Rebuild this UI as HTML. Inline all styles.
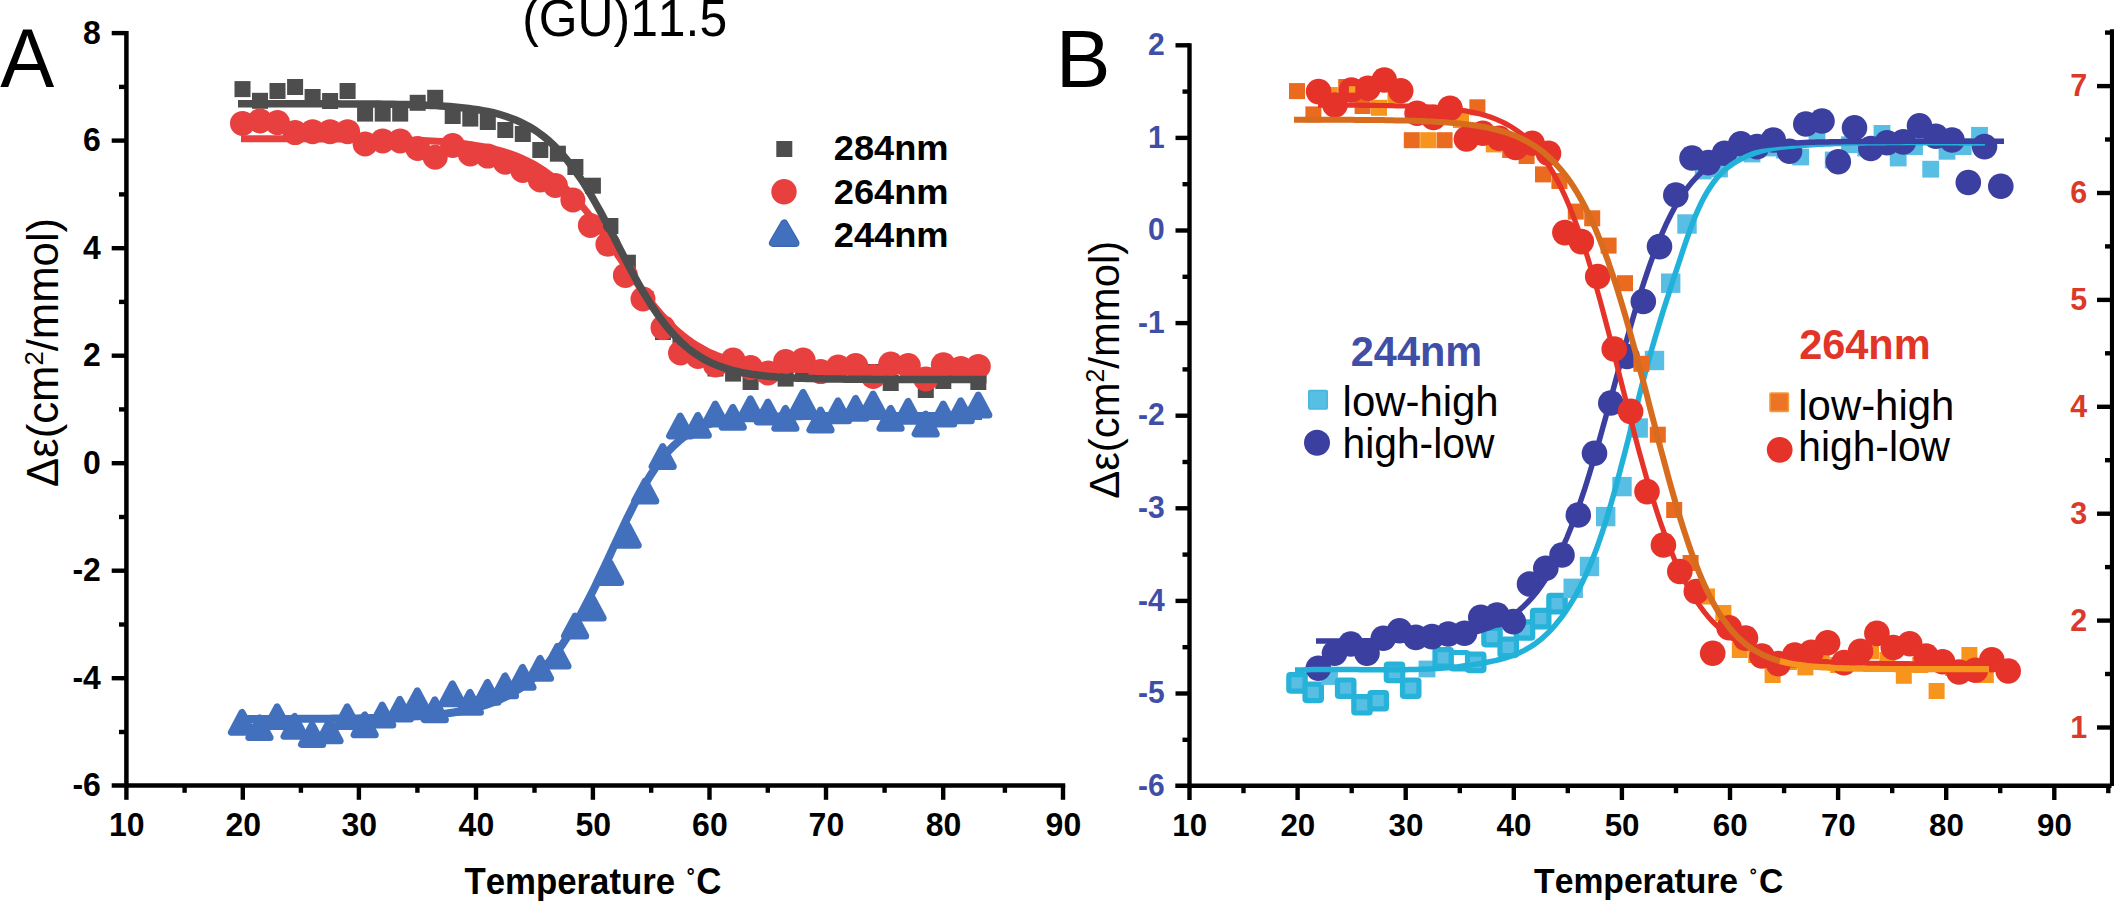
<!DOCTYPE html>
<html><head><meta charset="utf-8"><title>Figure</title>
<style>html,body{margin:0;padding:0;background:#fff}svg{display:block}
text{font-family:"Liberation Sans",sans-serif;font-kerning:none}
.b{font-weight:bold}
</style></head><body>
<svg width="2114" height="901" viewBox="0 0 2114 901">
<rect width="2114" height="901" fill="#fff"/>
<g id="panelA">
<g fill="#4d4d4d">
<rect x="234.5" y="81.1" width="16" height="16"/>
<rect x="252.0" y="92.8" width="16" height="16"/>
<rect x="269.5" y="83.0" width="16" height="16"/>
<rect x="287.1" y="79.0" width="16" height="16"/>
<rect x="304.6" y="89.0" width="16" height="16"/>
<rect x="322.1" y="93.0" width="16" height="16"/>
<rect x="339.6" y="83.0" width="16" height="16"/>
<rect x="357.1" y="105.6" width="16" height="16"/>
<rect x="374.7" y="105.6" width="16" height="16"/>
<rect x="392.2" y="105.6" width="16" height="16"/>
<rect x="409.7" y="94.8" width="16" height="16"/>
<rect x="427.2" y="89.8" width="16" height="16"/>
<rect x="444.7" y="108.0" width="16" height="16"/>
<rect x="462.3" y="110.6" width="16" height="16"/>
<rect x="479.8" y="114.0" width="16" height="16"/>
<rect x="497.3" y="122.0" width="16" height="16"/>
<rect x="514.8" y="126.0" width="16" height="16"/>
<rect x="532.3" y="142.0" width="16" height="16"/>
<rect x="549.9" y="145.7" width="16" height="16"/>
<rect x="567.4" y="159.0" width="16" height="16"/>
<rect x="584.9" y="177.7" width="16" height="16"/>
<rect x="602.4" y="218.0" width="16" height="16"/>
<rect x="619.9" y="254.7" width="16" height="16"/>
<rect x="637.5" y="291.0" width="16" height="16"/>
<rect x="655.0" y="324.0" width="16" height="16"/>
<rect x="672.5" y="337.0" width="16" height="16"/>
<rect x="690.0" y="350.0" width="16" height="16"/>
<rect x="707.5" y="360.5" width="16" height="16"/>
<rect x="725.1" y="365.6" width="16" height="16"/>
<rect x="742.6" y="374.0" width="16" height="16"/>
<rect x="760.1" y="364.0" width="16" height="16"/>
<rect x="777.6" y="370.6" width="16" height="16"/>
<rect x="795.1" y="364.0" width="16" height="16"/>
<rect x="812.7" y="364.0" width="16" height="16"/>
<rect x="830.2" y="364.0" width="16" height="16"/>
<rect x="847.7" y="364.0" width="16" height="16"/>
<rect x="865.2" y="364.0" width="16" height="16"/>
<rect x="882.7" y="375.0" width="16" height="16"/>
<rect x="900.3" y="364.0" width="16" height="16"/>
<rect x="917.8" y="382.0" width="16" height="16"/>
<rect x="935.3" y="373.0" width="16" height="16"/>
<rect x="952.8" y="364.0" width="16" height="16"/>
<rect x="970.3" y="374.0" width="16" height="16"/>
</g>
<g fill="#e8403f">
<circle cx="242.5" cy="123.4" r="12.5"/>
<circle cx="260.0" cy="120.9" r="12.5"/>
<circle cx="277.5" cy="122.6" r="12.5"/>
<circle cx="295.1" cy="132.6" r="12.5"/>
<circle cx="312.6" cy="131.7" r="12.5"/>
<circle cx="330.1" cy="131.7" r="12.5"/>
<circle cx="347.6" cy="131.7" r="12.5"/>
<circle cx="365.1" cy="143.9" r="12.5"/>
<circle cx="382.7" cy="140.9" r="12.5"/>
<circle cx="400.2" cy="140.9" r="12.5"/>
<circle cx="417.7" cy="148.5" r="12.5"/>
<circle cx="435.2" cy="157.2" r="12.5"/>
<circle cx="452.7" cy="145.5" r="12.5"/>
<circle cx="470.3" cy="153.9" r="12.5"/>
<circle cx="487.8" cy="156.1" r="12.5"/>
<circle cx="505.3" cy="162.2" r="12.5"/>
<circle cx="522.8" cy="170.5" r="12.5"/>
<circle cx="540.3" cy="180.0" r="12.5"/>
<circle cx="555.4" cy="185.5" r="12.5"/>
<circle cx="572.9" cy="200.0" r="12.5"/>
<circle cx="590.4" cy="225.4" r="12.5"/>
<circle cx="607.9" cy="244.3" r="12.5"/>
<circle cx="625.4" cy="275.4" r="12.5"/>
<circle cx="643.0" cy="299.0" r="12.5"/>
<circle cx="663.0" cy="327.7" r="12.5"/>
<circle cx="680.5" cy="353.0" r="12.5"/>
<circle cx="698.0" cy="356.5" r="12.5"/>
<circle cx="715.5" cy="365.0" r="12.5"/>
<circle cx="733.1" cy="360.0" r="12.5"/>
<circle cx="750.6" cy="367.6" r="12.5"/>
<circle cx="768.1" cy="373.0" r="12.5"/>
<circle cx="785.6" cy="361.5" r="12.5"/>
<circle cx="803.1" cy="360.1" r="12.5"/>
<circle cx="820.7" cy="371.6" r="12.5"/>
<circle cx="838.2" cy="367.0" r="12.5"/>
<circle cx="855.7" cy="365.6" r="12.5"/>
<circle cx="873.2" cy="376.4" r="12.5"/>
<circle cx="890.7" cy="364.0" r="12.5"/>
<circle cx="908.3" cy="365.6" r="12.5"/>
<circle cx="925.8" cy="379.0" r="12.5"/>
<circle cx="943.3" cy="364.8" r="12.5"/>
<circle cx="960.8" cy="368.4" r="12.5"/>
<circle cx="978.3" cy="366.4" r="12.5"/>
</g>
<g fill="#4270bd" stroke="#4270bd" stroke-width="7" stroke-linejoin="round">
<path d="M242.0,712.5 L231.4,732.3 L252.6,732.3 Z"/>
<path d="M259.5,717.8 L248.9,737.6 L270.1,737.6 Z"/>
<path d="M277.1,706.8 L266.5,726.6 L287.7,726.6 Z"/>
<path d="M294.6,716.5 L284.0,736.3 L305.2,736.3 Z"/>
<path d="M312.1,724.7 L301.5,744.5 L322.7,744.5 Z"/>
<path d="M329.6,721.0 L319.0,740.8 L340.2,740.8 Z"/>
<path d="M347.2,706.8 L336.6,726.6 L357.8,726.6 Z"/>
<path d="M364.7,715.0 L354.1,734.8 L375.3,734.8 Z"/>
<path d="M382.2,705.1 L371.6,724.9 L392.8,724.9 Z"/>
<path d="M399.8,699.3 L389.2,719.1 L410.4,719.1 Z"/>
<path d="M417.3,690.9 L406.7,710.7 L427.9,710.7 Z"/>
<path d="M434.8,699.9 L424.2,719.7 L445.4,719.7 Z"/>
<path d="M452.4,684.0 L441.8,703.8 L463.0,703.8 Z"/>
<path d="M469.9,692.5 L459.3,712.3 L480.5,712.3 Z"/>
<path d="M487.4,682.5 L476.8,702.3 L498.0,702.3 Z"/>
<path d="M505.0,676.0 L494.4,695.8 L515.6,695.8 Z"/>
<path d="M522.5,667.5 L511.9,687.3 L533.1,687.3 Z"/>
<path d="M540.0,658.5 L529.4,678.3 L550.6,678.3 Z"/>
<path d="M557.5,646.3 L546.9,666.1 L568.1,666.1 Z"/>
<path d="M575.1,616.1 L564.5,635.9 L585.7,635.9 Z"/>
<path d="M592.6,598.3 L582.0,618.1 L603.2,618.1 Z"/>
<path d="M610.1,562.8 L599.5,582.6 L620.7,582.6 Z"/>
<path d="M627.7,525.5 L617.1,545.3 L638.3,545.3 Z"/>
<path d="M645.2,481.2 L634.6,501.0 L655.8,501.0 Z"/>
<path d="M662.7,446.7 L652.1,466.5 L673.3,466.5 Z"/>
<path d="M680.2,416.2 L669.6,436.0 L690.9,436.0 Z"/>
<path d="M697.8,415.5 L687.2,435.3 L708.4,435.3 Z"/>
<path d="M715.3,404.1 L704.7,423.9 L725.9,423.9 Z"/>
<path d="M732.8,407.5 L722.2,427.3 L743.4,427.3 Z"/>
<path d="M750.4,398.9 L739.8,418.7 L761.0,418.7 Z"/>
<path d="M767.9,402.2 L757.3,422.0 L778.5,422.0 Z"/>
<path d="M785.4,408.5 L774.8,428.3 L796.0,428.3 Z"/>
<path d="M803.0,392.5 L792.4,412.3 L813.6,412.3 Z"/>
<path d="M820.5,410.1 L809.9,429.9 L831.1,429.9 Z"/>
<path d="M838.0,400.9 L827.4,420.7 L848.6,420.7 Z"/>
<path d="M855.6,398.5 L845.0,418.3 L866.2,418.3 Z"/>
<path d="M873.1,394.2 L862.5,414.0 L883.7,414.0 Z"/>
<path d="M890.6,408.5 L880.0,428.3 L901.2,428.3 Z"/>
<path d="M908.1,401.5 L897.5,421.3 L918.7,421.3 Z"/>
<path d="M925.7,414.2 L915.1,434.0 L936.3,434.0 Z"/>
<path d="M943.2,404.2 L932.6,424.0 L953.8,424.0 Z"/>
<path d="M960.7,400.9 L950.1,420.7 L971.3,420.7 Z"/>
<path d="M978.3,395.1 L967.7,414.9 L988.9,414.9 Z"/>
</g>
<path d="M241.0,138.7 L245.7,138.7 L250.3,138.7 L255.0,138.7 L259.6,138.7 L264.3,138.7 L269.0,138.7 L273.6,138.7 L278.3,138.8 L282.9,138.8 L287.6,138.8 L292.3,138.8 L296.9,138.8 L301.6,138.8 L306.2,138.8 L310.9,138.8 L315.6,138.8 L320.2,138.9 L324.9,138.9 L329.5,138.9 L334.2,138.9 L338.9,138.9 L343.5,139.0 L348.2,139.0 L352.8,139.0 L357.5,139.1 L362.2,139.1 L366.8,139.2 L371.5,139.2 L376.2,139.3 L380.8,139.4 L385.5,139.5 L390.1,139.5 L394.8,139.6 L399.5,139.8 L404.1,139.9 L408.8,140.0 L413.4,140.2 L418.1,140.4 L422.8,140.6 L427.4,140.8 L432.1,141.0 L436.7,141.3 L441.4,141.6 L446.1,142.0 L450.7,142.4 L455.4,142.8 L460.0,143.3 L464.7,143.8 L469.4,144.4 L474.0,145.1 L478.7,145.9 L483.3,146.7 L488.0,147.6 L492.7,148.7 L497.3,149.8 L502.0,151.1 L506.6,152.5 L511.3,154.1 L516.0,155.8 L520.6,157.7 L525.3,159.8 L529.9,162.1 L534.6,164.6 L539.3,167.4 L543.9,170.4 L548.6,173.7 L553.2,177.3 L557.9,181.1 L562.6,185.3 L567.2,189.7 L571.9,194.5 L576.5,199.6 L581.2,205.0 L585.9,210.6 L590.5,216.5 L595.2,222.7 L599.8,229.1 L604.5,235.7 L609.2,242.4 L613.8,249.3 L618.5,256.2 L623.2,263.1 L627.8,270.0 L632.5,276.8 L637.1,283.5 L641.8,289.9 L646.5,296.2 L651.1,302.3 L655.8,308.1 L660.4,313.5 L665.1,318.7 L669.8,323.6 L674.4,328.1 L679.1,332.3 L683.7,336.1 L688.4,339.7 L693.1,343.0 L697.7,345.9 L702.4,348.6 L707.0,351.1 L711.7,353.3 L716.4,355.3 L721.0,357.1 L725.7,358.6 L730.3,360.1 L735.0,361.3 L739.7,362.5 L744.3,363.5 L749.0,364.4 L753.6,365.2 L758.3,365.9 L763.0,366.5 L767.6,367.0 L772.3,367.5 L776.9,367.9 L781.6,368.3 L786.3,368.6 L790.9,368.9 L795.6,369.2 L800.2,369.4 L804.9,369.6 L809.6,369.8 L814.2,369.9 L818.9,370.1 L823.5,370.2 L828.2,370.3 L832.9,370.4 L837.5,370.4 L842.2,370.5 L846.8,370.6 L851.5,370.6 L856.2,370.7 L860.8,370.7 L865.5,370.7 L870.2,370.8 L874.8,370.8 L879.5,370.8 L884.1,370.9 L888.8,370.9 L893.5,370.9 L898.1,370.9 L902.8,370.9 L907.4,370.9 L912.1,370.9 L916.8,370.9 L921.4,370.9 L926.1,371.0 L930.7,371.0 L935.4,371.0 L940.1,371.0 L944.7,371.0 L949.4,371.0 L954.0,371.0 L958.7,371.0 L963.4,371.0 L968.0,371.0 L972.7,371.0 L977.3,371.0 L982.0,371.0" fill="none" stroke="#e8403f" stroke-width="7"/>
<path d="M240.0,719.0 L244.7,719.0 L249.3,719.0 L254.0,718.9 L258.7,718.9 L263.3,718.9 L268.0,718.9 L272.7,718.9 L277.3,718.9 L282.0,718.9 L286.7,718.9 L291.3,718.9 L296.0,718.9 L300.7,718.8 L305.3,718.8 L310.0,718.8 L314.7,718.8 L319.3,718.7 L324.0,718.7 L328.7,718.7 L333.3,718.6 L338.0,718.6 L342.7,718.5 L347.3,718.5 L352.0,718.4 L356.7,718.4 L361.3,718.3 L366.0,718.2 L370.7,718.1 L375.3,718.0 L380.0,717.9 L384.7,717.7 L389.3,717.6 L394.0,717.4 L398.7,717.2 L403.3,717.0 L408.0,716.8 L412.7,716.5 L417.3,716.2 L422.0,715.9 L426.7,715.5 L431.3,715.1 L436.0,714.7 L440.7,714.2 L445.3,713.6 L450.0,713.0 L454.7,712.3 L459.3,711.5 L464.0,710.6 L468.7,709.6 L473.3,708.5 L478.0,707.3 L482.7,706.0 L487.3,704.5 L492.0,702.8 L496.7,701.0 L501.3,698.9 L506.0,696.7 L510.7,694.2 L515.3,691.4 L520.0,688.4 L524.7,685.0 L529.3,681.4 L534.0,677.4 L538.7,673.0 L543.3,668.2 L548.0,663.1 L552.7,657.5 L557.3,651.4 L562.0,644.9 L566.7,637.9 L571.3,630.5 L576.0,622.7 L580.7,614.4 L585.3,605.7 L590.0,596.6 L594.7,587.2 L599.3,577.5 L604.0,567.7 L608.7,557.7 L613.3,547.6 L618.0,537.6 L622.7,527.7 L627.3,518.0 L632.0,508.6 L636.7,499.5 L641.3,490.8 L646.0,482.7 L650.7,475.0 L655.3,468.0 L660.0,461.5 L664.7,455.5 L669.3,450.2 L674.0,445.4 L678.7,441.2 L683.3,437.4 L688.0,434.2 L692.7,431.3 L697.3,428.9 L702.0,426.8 L706.7,425.0 L711.3,423.5 L716.0,422.2 L720.7,421.1 L725.3,420.2 L730.0,419.5 L734.7,418.8 L739.3,418.3 L744.0,417.9 L748.7,417.5 L753.3,417.3 L758.0,417.0 L762.7,416.8 L767.3,416.7 L772.0,416.5 L776.7,416.4 L781.3,416.4 L786.0,416.3 L790.7,416.2 L795.3,416.2 L800.0,416.2 L804.7,416.1 L809.3,416.1 L814.0,416.1 L818.7,416.1 L823.3,416.1 L828.0,416.0 L832.7,416.0 L837.3,416.0 L842.0,416.0 L846.7,416.0 L851.3,416.0 L856.0,416.0 L860.7,416.0 L865.3,416.0 L870.0,416.0 L874.7,416.0 L879.3,416.0 L884.0,416.0 L888.7,416.0 L893.3,416.0 L898.0,416.0 L902.7,416.0 L907.3,416.0 L912.0,416.0 L916.7,416.0 L921.3,416.0 L926.0,416.0 L930.7,416.0 L935.3,416.0 L940.0,416.0 L944.7,416.0 L949.3,416.0 L954.0,416.0 L958.7,416.0 L963.3,416.0 L968.0,416.0 L972.7,416.0 L977.3,416.0 L982.0,416.0" fill="none" stroke="#4270bd" stroke-width="8"/>
<path d="M238.0,103.7 L242.7,103.7 L247.4,103.7 L252.1,103.7 L256.8,103.7 L261.5,103.7 L266.2,103.7 L271.0,103.7 L275.7,103.7 L280.4,103.7 L285.1,103.7 L289.8,103.7 L294.5,103.7 L299.2,103.7 L303.9,103.8 L308.6,103.8 L313.3,103.8 L318.0,103.8 L322.7,103.8 L327.4,103.8 L332.2,103.8 L336.9,103.8 L341.6,103.9 L346.3,103.9 L351.0,103.9 L355.7,103.9 L360.4,104.0 L365.1,104.0 L369.8,104.0 L374.5,104.1 L379.2,104.1 L383.9,104.2 L388.6,104.2 L393.3,104.3 L398.1,104.4 L402.8,104.5 L407.5,104.6 L412.2,104.7 L416.9,104.9 L421.6,105.0 L426.3,105.2 L431.0,105.4 L435.7,105.6 L440.4,105.9 L445.1,106.2 L449.8,106.6 L454.5,106.9 L459.3,107.4 L464.0,107.9 L468.7,108.4 L473.4,109.1 L478.1,109.8 L482.8,110.6 L487.5,111.5 L492.2,112.5 L496.9,113.7 L501.6,115.0 L506.3,116.5 L511.0,118.2 L515.7,120.0 L520.5,122.1 L525.2,124.5 L529.9,127.1 L534.6,130.0 L539.3,133.2 L544.0,136.8 L548.7,140.7 L553.4,145.0 L558.1,149.8 L562.8,154.9 L567.5,160.6 L572.2,166.6 L576.9,173.2 L581.7,180.1 L586.4,187.5 L591.1,195.3 L595.8,203.5 L600.5,211.9 L605.2,220.7 L609.9,229.6 L614.6,238.6 L619.3,247.7 L624.0,256.8 L628.7,265.8 L633.4,274.5 L638.1,283.1 L642.8,291.3 L647.6,299.1 L652.3,306.6 L657.0,313.6 L661.7,320.1 L666.4,326.2 L671.1,331.8 L675.8,337.0 L680.5,341.7 L685.2,345.9 L689.9,349.8 L694.6,353.2 L699.3,356.3 L704.0,359.1 L708.8,361.6 L713.5,363.8 L718.2,365.7 L722.9,367.4 L727.6,368.9 L732.3,370.3 L737.0,371.4 L741.7,372.5 L746.4,373.4 L751.1,374.2 L755.8,374.8 L760.5,375.4 L765.2,376.0 L770.0,376.4 L774.7,376.8 L779.4,377.2 L784.1,377.5 L788.8,377.7 L793.5,378.0 L798.2,378.2 L802.9,378.3 L807.6,378.5 L812.3,378.6 L817.0,378.7 L821.7,378.8 L826.4,378.9 L831.2,379.0 L835.9,379.1 L840.6,379.1 L845.3,379.2 L850.0,379.2 L854.7,379.3 L859.4,379.3 L864.1,379.3 L868.8,379.3 L873.5,379.4 L878.2,379.4 L882.9,379.4 L887.6,379.4 L892.3,379.4 L897.1,379.4 L901.8,379.4 L906.5,379.4 L911.2,379.5 L915.9,379.5 L920.6,379.5 L925.3,379.5 L930.0,379.5 L934.7,379.5 L939.4,379.5 L944.1,379.5 L948.8,379.5 L953.5,379.5 L958.3,379.5 L963.0,379.5 L967.7,379.5 L972.4,379.5 L977.1,379.5 L981.8,379.5 L986.5,379.5" fill="none" stroke="#4d4d4d" stroke-width="7.5"/>
<g stroke="#000" stroke-width="4.4" fill="none">
<path d="M126.4,31 V787.6" stroke-width="4.5"/>
<path d="M111.7,785.4 H1065.2" stroke-width="4.5"/>
<path d="M119,732.0 H126.4"/>
<path d="M111.7,678.2 H126.4"/>
<path d="M119,624.5 H126.4"/>
<path d="M111.7,570.7 H126.4"/>
<path d="M119,517.0 H126.4"/>
<path d="M111.7,463.2 H126.4"/>
<path d="M119,409.4 H126.4"/>
<path d="M111.7,355.7 H126.4"/>
<path d="M119,301.9 H126.4"/>
<path d="M111.7,248.2 H126.4"/>
<path d="M119,194.4 H126.4"/>
<path d="M111.7,140.6 H126.4"/>
<path d="M119,86.9 H126.4"/>
<path d="M111.7,33.1 H126.4"/>
<path d="M126.4,785 V799.8"/>
<path d="M242.8,785 V799.8"/>
<path d="M358.9,785 V799.8"/>
<path d="M476.0,785 V799.8"/>
<path d="M592.9,785 V799.8"/>
<path d="M709.5,785 V799.8"/>
<path d="M826.0,785 V799.8"/>
<path d="M943.2,785 V799.8"/>
<path d="M1063.0,785 V799.8"/>
<path d="M184.6,785 V792.8"/>
<path d="M300.9,785 V792.8"/>
<path d="M417.4,785 V792.8"/>
<path d="M534.5,785 V792.8"/>
<path d="M651.2,785 V792.8"/>
<path d="M767.8,785 V792.8"/>
<path d="M884.6,785 V792.8"/>
<path d="M1004.9,785 V792.8"/>
</g>
<text class="b" font-size="33.50" text-anchor="end" transform="translate(100.90,796.16) scale(0.955,1)">-6</text>
<text class="b" font-size="33.50" text-anchor="end" transform="translate(100.90,688.64) scale(0.955,1)">-4</text>
<text class="b" font-size="33.50" text-anchor="end" transform="translate(100.90,581.12) scale(0.955,1)">-2</text>
<text class="b" font-size="33.50" text-anchor="end" transform="translate(100.90,473.60) scale(0.955,1)">0</text>
<text class="b" font-size="33.50" text-anchor="end" transform="translate(100.90,366.08) scale(0.955,1)">2</text>
<text class="b" font-size="33.50" text-anchor="end" transform="translate(100.90,258.56) scale(0.955,1)">4</text>
<text class="b" font-size="33.50" text-anchor="end" transform="translate(100.90,151.04) scale(0.955,1)">6</text>
<text class="b" font-size="33.50" text-anchor="end" transform="translate(100.90,43.52) scale(0.955,1)">8</text>
<text class="b" font-size="33.50" text-anchor="middle" transform="translate(126.80,835.70) scale(0.955,1)">10</text>
<text class="b" font-size="33.50" text-anchor="middle" transform="translate(243.20,835.70) scale(0.955,1)">20</text>
<text class="b" font-size="33.50" text-anchor="middle" transform="translate(359.30,835.70) scale(0.955,1)">30</text>
<text class="b" font-size="33.50" text-anchor="middle" transform="translate(476.40,835.70) scale(0.955,1)">40</text>
<text class="b" font-size="33.50" text-anchor="middle" transform="translate(593.30,835.70) scale(0.955,1)">50</text>
<text class="b" font-size="33.50" text-anchor="middle" transform="translate(709.90,835.70) scale(0.955,1)">60</text>
<text class="b" font-size="33.50" text-anchor="middle" transform="translate(826.40,835.70) scale(0.955,1)">70</text>
<text class="b" font-size="33.50" text-anchor="middle" transform="translate(943.60,835.70) scale(0.955,1)">80</text>
<text class="b" font-size="33.50" text-anchor="middle" transform="translate(1063.40,835.70) scale(0.955,1)">90</text>
<text class="b" font-size="37.02" transform="translate(464.41,893.9) scale(0.9403,1)"><tspan>Temperature </tspan><tspan x="236.8" dy="-3.5" font-size="27.4">˚</tspan><tspan x="246.5" dy="3.5">C</tspan></text>
<text font-size="44.2" transform="translate(58.0,486.9) rotate(-90) scale(0.988,1)">Δε(cm<tspan font-size="26" dy="-15">2</tspan><tspan dy="15">/mmol)</tspan></text>
<text font-size="82.78" transform="translate(0.14,87.00) scale(0.9783,1)">A</text>
<text font-size="52.00" transform="translate(522.21,36.30) scale(0.9586,1)">(GU)11.5</text>
<rect x="776.3" y="141" width="16" height="16" fill="#4d4d4d"/>
<circle cx="784" cy="191.7" r="12.7" fill="#e8403f"/>
<path d="M784.2,223.5 L772.9,242.9 L795.5,242.9 Z" fill="#4270bd" stroke="#3a66b3" stroke-width="8" stroke-linejoin="round"/>
<path d="M784.2,223.5 L772.9,242.9 L795.5,242.9 Z" fill="#4270bd" stroke="#4270bd" stroke-width="5.6" stroke-linejoin="round"/>
<text class="b" font-size="35.57" transform="translate(833.74,160.30) scale(1.0196,1)">284nm</text>
<text class="b" font-size="35.57" transform="translate(833.74,203.70) scale(1.0196,1)">264nm</text>
<text class="b" font-size="35.57" transform="translate(833.74,247.20) scale(1.0196,1)">244nm</text>
</g>
<g id="panelB">
<rect x="1288.8" y="674.7" width="16.4" height="16.4" rx="1.5" fill="#58bee4" stroke="#27b2d9" stroke-width="5.2"/>
<rect x="1305.0" y="684.2" width="16.4" height="16.4" rx="1.5" fill="#58bee4" stroke="#27b2d9" stroke-width="5.2"/>
<rect x="1321.1" y="668.1" width="16.8" height="16.8" fill="#58bee4"/>
<rect x="1337.5" y="680.0" width="16.4" height="16.4" rx="1.5" fill="#58bee4" stroke="#27b2d9" stroke-width="5.2"/>
<rect x="1353.8" y="696.6" width="16.4" height="16.4" rx="1.5" fill="#58bee4" stroke="#27b2d9" stroke-width="5.2"/>
<rect x="1370.0" y="692.5" width="16.4" height="16.4" rx="1.5" fill="#58bee4" stroke="#27b2d9" stroke-width="5.2"/>
<rect x="1386.3" y="664.2" width="16.4" height="16.4" rx="1.5" fill="#58bee4" stroke="#27b2d9" stroke-width="5.2"/>
<rect x="1402.5" y="680.0" width="16.4" height="16.4" rx="1.5" fill="#58bee4" stroke="#27b2d9" stroke-width="5.2"/>
<rect x="1418.6" y="660.6" width="16.8" height="16.8" fill="#58bee4"/>
<rect x="1435.0" y="649.7" width="16.4" height="16.4" rx="1.5" fill="#58bee4" stroke="#27b2d9" stroke-width="5.2"/>
<rect x="1451.3" y="652.5" width="16.4" height="16.4" rx="1.5" fill="#fff" stroke="#27b2d9" stroke-width="5.2"/>
<rect x="1467.5" y="654.2" width="16.4" height="16.4" rx="1.5" fill="#58bee4" stroke="#27b2d9" stroke-width="5.2"/>
<rect x="1483.8" y="628.4" width="16.4" height="16.4" rx="1.5" fill="#58bee4" stroke="#27b2d9" stroke-width="5.2"/>
<rect x="1500.0" y="639.2" width="16.4" height="16.4" rx="1.5" fill="#58bee4" stroke="#27b2d9" stroke-width="5.2"/>
<rect x="1516.3" y="621.8" width="16.4" height="16.4" rx="1.5" fill="#58bee4" stroke="#27b2d9" stroke-width="5.2"/>
<rect x="1532.5" y="610.4" width="16.4" height="16.4" rx="1.5" fill="#58bee4" stroke="#27b2d9" stroke-width="5.2"/>
<rect x="1548.8" y="595.4" width="16.4" height="16.4" rx="1.5" fill="#58bee4" stroke="#27b2d9" stroke-width="5.2"/>
<rect x="1563.5" y="578.6" width="19.4" height="19.4" fill="#58bee4"/>
<rect x="1579.8" y="556.8" width="19.4" height="19.4" fill="#58bee4"/>
<rect x="1596.0" y="506.9" width="19.4" height="19.4" fill="#58bee4"/>
<rect x="1612.3" y="476.9" width="19.4" height="19.4" fill="#58bee4"/>
<rect x="1628.5" y="418.3" width="19.4" height="19.4" fill="#58bee4"/>
<rect x="1644.8" y="350.8" width="19.4" height="19.4" fill="#58bee4"/>
<rect x="1661.0" y="273.5" width="19.4" height="19.4" fill="#58bee4"/>
<rect x="1677.3" y="214.3" width="19.4" height="19.4" fill="#58bee4"/>
<rect x="1694.8" y="162.6" width="16.8" height="16.8" fill="#58bee4"/>
<rect x="1711.1" y="160.6" width="16.8" height="16.8" fill="#58bee4"/>
<rect x="1727.3" y="141.6" width="16.8" height="16.8" fill="#58bee4"/>
<rect x="1743.6" y="145.6" width="16.8" height="16.8" fill="#58bee4"/>
<rect x="1759.8" y="139.6" width="16.8" height="16.8" fill="#58bee4"/>
<rect x="1776.1" y="141.6" width="16.8" height="16.8" fill="#58bee4"/>
<rect x="1792.3" y="148.6" width="16.8" height="16.8" fill="#58bee4"/>
<rect x="1808.6" y="126.9" width="16.8" height="16.8" fill="#58bee4"/>
<rect x="1824.8" y="151.6" width="16.8" height="16.8" fill="#58bee4"/>
<rect x="1841.1" y="136.3" width="16.8" height="16.8" fill="#58bee4"/>
<rect x="1857.3" y="139.6" width="16.8" height="16.8" fill="#58bee4"/>
<rect x="1873.6" y="125.0" width="16.8" height="16.8" fill="#58bee4"/>
<rect x="1889.8" y="149.6" width="16.8" height="16.8" fill="#58bee4"/>
<rect x="1906.1" y="138.2" width="16.8" height="16.8" fill="#58bee4"/>
<rect x="1922.3" y="160.8" width="16.8" height="16.8" fill="#58bee4"/>
<rect x="1938.6" y="142.9" width="16.8" height="16.8" fill="#58bee4"/>
<rect x="1954.8" y="138.2" width="16.8" height="16.8" fill="#58bee4"/>
<rect x="1971.1" y="126.9" width="16.8" height="16.8" fill="#58bee4"/>
<g fill="#3b3fa0">
<circle cx="1318.3" cy="668.2" r="12.8"/>
<circle cx="1334.5" cy="653.2" r="12.8"/>
<circle cx="1350.8" cy="644.0" r="12.8"/>
<circle cx="1367.0" cy="653.2" r="12.8"/>
<circle cx="1383.3" cy="638.3" r="12.8"/>
<circle cx="1399.5" cy="630.8" r="12.8"/>
<circle cx="1415.8" cy="637.4" r="12.8"/>
<circle cx="1432.0" cy="636.6" r="12.8"/>
<circle cx="1448.3" cy="634.0" r="12.8"/>
<circle cx="1464.5" cy="633.3" r="12.8"/>
<circle cx="1480.8" cy="617.4" r="12.8"/>
<circle cx="1497.0" cy="615.0" r="12.8"/>
<circle cx="1513.3" cy="621.6" r="12.8"/>
<circle cx="1529.5" cy="584.0" r="12.8"/>
<circle cx="1545.8" cy="568.2" r="12.8"/>
<circle cx="1562.0" cy="555.0" r="12.8"/>
<circle cx="1578.3" cy="515.0" r="12.8"/>
<circle cx="1594.5" cy="453.3" r="12.8"/>
<circle cx="1610.8" cy="403.0" r="12.8"/>
<circle cx="1627.0" cy="356.5" r="12.8"/>
<circle cx="1643.3" cy="301.5" r="12.8"/>
<circle cx="1659.5" cy="246.6" r="12.8"/>
<circle cx="1675.8" cy="195.0" r="12.8"/>
<circle cx="1692.0" cy="158.0" r="12.8"/>
<circle cx="1708.3" cy="162.6" r="12.8"/>
<circle cx="1724.5" cy="153.2" r="12.8"/>
<circle cx="1740.8" cy="143.8" r="12.8"/>
<circle cx="1757.0" cy="146.6" r="12.8"/>
<circle cx="1773.3" cy="140.0" r="12.8"/>
<circle cx="1789.5" cy="151.3" r="12.8"/>
<circle cx="1805.8" cy="124.0" r="12.8"/>
<circle cx="1822.0" cy="121.0" r="12.8"/>
<circle cx="1838.3" cy="161.7" r="12.8"/>
<circle cx="1854.5" cy="127.7" r="12.8"/>
<circle cx="1870.8" cy="148.5" r="12.8"/>
<circle cx="1887.0" cy="142.8" r="12.8"/>
<circle cx="1903.3" cy="141.9" r="12.8"/>
<circle cx="1919.5" cy="125.8" r="12.8"/>
<circle cx="1935.8" cy="136.2" r="12.8"/>
<circle cx="1952.0" cy="140.0" r="12.8"/>
<circle cx="1968.3" cy="182.5" r="12.8"/>
<circle cx="1984.5" cy="146.6" r="12.8"/>
<circle cx="2000.8" cy="186.2" r="12.8"/>
</g>
<path d="M1295.0,670.1 L1298.5,670.0 L1301.9,669.9 L1305.4,669.8 L1308.9,669.7 L1312.3,669.6 L1315.8,669.6 L1319.3,669.5 L1322.7,669.5 L1326.2,669.5 L1329.7,669.5 L1333.1,669.5 L1336.6,669.5 L1340.1,669.5 L1343.5,669.5 L1347.0,669.5 L1350.5,669.6 L1353.9,669.6 L1357.4,669.6 L1360.9,669.7 L1364.3,669.7 L1367.8,669.7 L1371.3,669.8 L1374.7,669.8 L1378.2,669.8 L1381.7,669.8 L1385.2,669.8 L1388.6,669.8 L1392.1,669.8 L1395.6,669.8 L1399.0,669.8 L1402.5,669.8 L1406.0,669.7 L1409.4,669.6 L1412.9,669.6 L1416.4,669.5 L1419.8,669.3 L1423.3,669.2 L1426.8,669.1 L1430.2,668.9 L1433.7,668.7 L1437.2,668.5 L1440.6,668.2 L1444.1,668.0 L1447.6,667.7 L1451.0,667.4 L1454.5,667.0 L1458.0,666.7 L1461.4,666.3 L1464.9,665.8 L1468.4,665.4 L1471.8,664.9 L1475.3,664.3 L1478.8,663.8 L1482.2,663.2 L1485.7,662.5 L1489.2,661.8 L1492.6,661.1 L1496.1,660.4 L1499.6,659.5 L1503.0,658.6 L1506.5,657.6 L1510.0,656.5 L1513.4,655.2 L1516.9,653.9 L1520.4,652.3 L1523.8,650.6 L1527.3,648.7 L1530.8,646.6 L1534.2,644.4 L1537.7,641.8 L1541.2,639.1 L1544.6,636.0 L1548.1,632.8 L1551.6,629.2 L1555.1,625.3 L1558.5,621.1 L1562.0,616.6 L1565.5,611.7 L1568.9,606.5 L1572.4,600.9 L1575.9,594.8 L1579.3,588.4 L1582.8,581.4 L1586.3,573.9 L1589.7,565.9 L1593.2,557.4 L1596.7,548.3 L1600.1,538.6 L1603.6,528.2 L1607.1,517.2 L1610.5,505.5 L1614.0,493.3 L1617.5,480.6 L1620.9,467.5 L1624.4,454.2 L1627.9,440.6 L1631.3,427.0 L1634.8,413.3 L1638.3,399.7 L1641.7,386.3 L1645.2,373.1 L1648.7,360.3 L1652.1,347.9 L1655.6,335.9 L1659.1,324.4 L1662.5,313.1 L1666.0,302.1 L1669.5,291.3 L1672.9,280.7 L1676.4,270.2 L1679.9,259.6 L1683.3,249.2 L1686.8,239.0 L1690.3,229.2 L1693.7,220.0 L1697.2,211.6 L1700.7,204.0 L1704.1,197.3 L1707.6,191.2 L1711.1,185.8 L1714.5,181.0 L1718.0,176.8 L1721.5,173.1 L1724.9,169.8 L1728.4,166.9 L1731.9,164.4 L1735.4,162.2 L1738.8,160.2 L1742.3,158.4 L1745.8,156.8 L1749.2,155.3 L1752.7,153.9 L1756.2,152.7 L1759.6,151.7 L1763.1,150.7 L1766.6,149.8 L1770.0,149.1 L1773.5,148.4 L1777.0,147.9 L1780.4,147.4 L1783.9,146.9 L1787.4,146.5 L1790.8,146.2 L1794.3,145.9 L1797.8,145.6 L1801.2,145.4 L1804.7,145.2 L1808.2,144.9 L1811.6,144.7 L1815.1,144.5 L1818.6,144.3 L1822.0,144.2 L1825.5,144.0 L1829.0,143.9 L1832.4,143.7 L1835.9,143.6 L1839.4,143.5 L1842.8,143.4 L1846.3,143.3 L1849.8,143.2 L1853.2,143.1 L1856.7,143.0 L1860.2,142.9 L1863.6,142.9 L1867.1,142.8 L1870.6,142.8 L1874.0,142.7 L1877.5,142.7 L1881.0,142.7 L1884.4,142.7 L1887.9,142.6 L1891.4,142.6 L1894.8,142.6 L1898.3,142.6 L1901.8,142.6 L1905.3,142.6 L1908.7,142.6 L1912.2,142.6 L1915.7,142.6 L1919.1,142.7 L1922.6,142.7 L1926.1,142.7 L1929.5,142.7 L1933.0,142.7 L1936.5,142.7 L1939.9,142.8 L1943.4,142.8 L1946.9,142.8 L1950.3,142.8 L1953.8,142.8 L1957.3,142.8 L1960.7,142.9 L1964.2,142.9 L1967.7,142.9 L1971.1,142.9 L1974.6,142.9 L1978.1,142.9 L1981.5,142.9 L1985.0,142.8" fill="none" stroke="#22b1d8" stroke-width="5.5"/>
<path d="M1316.0,641.1 L1320.3,641.1 L1324.7,641.1 L1329.0,641.1 L1333.3,641.0 L1337.6,641.0 L1342.0,641.0 L1346.3,641.0 L1350.6,640.9 L1354.9,640.9 L1359.3,640.9 L1363.6,640.8 L1367.9,640.8 L1372.3,640.7 L1376.6,640.6 L1380.9,640.6 L1385.2,640.5 L1389.6,640.4 L1393.9,640.3 L1398.2,640.2 L1402.5,640.0 L1406.9,639.9 L1411.2,639.7 L1415.5,639.5 L1419.8,639.3 L1424.2,639.0 L1428.5,638.8 L1432.8,638.4 L1437.2,638.1 L1441.5,637.7 L1445.8,637.2 L1450.1,636.7 L1454.5,636.1 L1458.8,635.4 L1463.1,634.7 L1467.4,633.8 L1471.8,632.9 L1476.1,631.8 L1480.4,630.6 L1484.8,629.2 L1489.1,627.7 L1493.4,625.9 L1497.7,624.0 L1502.1,621.8 L1506.4,619.3 L1510.7,616.6 L1515.0,613.5 L1519.4,610.1 L1523.7,606.3 L1528.0,602.0 L1532.4,597.3 L1536.7,592.0 L1541.0,586.2 L1545.3,579.8 L1549.7,572.7 L1554.0,565.0 L1558.3,556.6 L1562.6,547.4 L1567.0,537.5 L1571.3,526.8 L1575.6,515.3 L1579.9,503.1 L1584.3,490.2 L1588.6,476.5 L1592.9,462.2 L1597.3,447.4 L1601.6,432.1 L1605.9,416.5 L1610.2,400.6 L1614.6,384.5 L1618.9,368.5 L1623.2,352.6 L1627.5,337.0 L1631.9,321.8 L1636.2,307.0 L1640.5,292.9 L1644.9,279.4 L1649.2,266.6 L1653.5,254.7 L1657.8,243.5 L1662.2,233.1 L1666.5,223.5 L1670.8,214.7 L1675.1,206.7 L1679.5,199.4 L1683.8,192.9 L1688.1,186.9 L1692.5,181.6 L1696.8,176.8 L1701.1,172.6 L1705.4,168.8 L1709.8,165.5 L1714.1,162.5 L1718.4,159.9 L1722.7,157.6 L1727.1,155.5 L1731.4,153.8 L1735.7,152.2 L1740.1,150.8 L1744.4,149.6 L1748.7,148.5 L1753.0,147.6 L1757.4,146.8 L1761.7,146.1 L1766.0,145.5 L1770.3,144.9 L1774.7,144.5 L1779.0,144.1 L1783.3,143.7 L1787.6,143.4 L1792.0,143.1 L1796.3,142.9 L1800.6,142.7 L1805.0,142.5 L1809.3,142.3 L1813.6,142.2 L1817.9,142.1 L1822.3,142.0 L1826.6,141.9 L1830.9,141.8 L1835.2,141.8 L1839.6,141.7 L1843.9,141.6 L1848.2,141.6 L1852.6,141.6 L1856.9,141.5 L1861.2,141.5 L1865.5,141.5 L1869.9,141.4 L1874.2,141.4 L1878.5,141.4 L1882.8,141.4 L1887.2,141.4 L1891.5,141.4 L1895.8,141.4 L1900.2,141.4 L1904.5,141.3 L1908.8,141.3 L1913.1,141.3 L1917.5,141.3 L1921.8,141.3 L1926.1,141.3 L1930.4,141.3 L1934.8,141.3 L1939.1,141.3 L1943.4,141.3 L1947.7,141.3 L1952.1,141.3 L1956.4,141.3 L1960.7,141.3 L1965.1,141.3 L1969.4,141.3 L1973.7,141.3 L1978.0,141.3 L1982.4,141.3 L1986.7,141.3 L1991.0,141.3 L1995.3,141.3 L1999.7,141.3 L2004.0,141.3" fill="none" stroke="#3b3fa0" stroke-width="5.5"/>
<rect x="1289.0" y="83.1" width="16" height="16" fill="#ea6a20"/>
<rect x="1305.4" y="106.4" width="16" height="16" fill="#ea6a20"/>
<rect x="1321.8" y="87.0" width="16" height="16" fill="#f7941e"/>
<rect x="1338.2" y="79.0" width="16" height="16" fill="#ea6a20"/>
<rect x="1354.6" y="98.0" width="16" height="16" fill="#ea6a20"/>
<rect x="1371.0" y="99.8" width="16" height="16" fill="#f7941e"/>
<rect x="1387.4" y="87.0" width="16" height="16" fill="#f7941e"/>
<rect x="1403.8" y="132.2" width="16" height="16" fill="#ea6a20"/>
<rect x="1420.2" y="132.2" width="16" height="16" fill="#f7941e"/>
<rect x="1436.6" y="132.2" width="16" height="16" fill="#ea6a20"/>
<rect x="1453.0" y="112.0" width="16" height="16" fill="#f7941e"/>
<rect x="1469.4" y="99.3" width="16" height="16" fill="#ea6a20"/>
<rect x="1485.8" y="136.4" width="16" height="16" fill="#f7941e"/>
<rect x="1502.2" y="142.0" width="16" height="16" fill="#ea6a20"/>
<rect x="1518.6" y="148.0" width="16" height="16" fill="#ea6a20"/>
<rect x="1535.0" y="166.4" width="16" height="16" fill="#ea6a20"/>
<rect x="1551.4" y="173.0" width="16" height="16" fill="#ea6a20"/>
<rect x="1567.8" y="203.6" width="16" height="16" fill="#ea6a20"/>
<rect x="1584.2" y="210.3" width="16" height="16" fill="#ea6a20"/>
<rect x="1600.6" y="237.6" width="16" height="16" fill="#ea6a20"/>
<rect x="1617.0" y="275.2" width="16" height="16" fill="#ea6a20"/>
<rect x="1633.4" y="355.8" width="16" height="16" fill="#ea6a20"/>
<rect x="1649.8" y="426.7" width="16" height="16" fill="#ea6a20"/>
<rect x="1666.2" y="502.0" width="16" height="16" fill="#ea6a20"/>
<rect x="1682.6" y="555.0" width="16" height="16" fill="#ea6a20"/>
<rect x="1699.0" y="588.5" width="16" height="16" fill="#f7941e"/>
<rect x="1715.4" y="605.0" width="16" height="16" fill="#f7941e"/>
<rect x="1731.8" y="642.0" width="16" height="16" fill="#f7941e"/>
<rect x="1748.2" y="647.0" width="16" height="16" fill="#f7941e"/>
<rect x="1764.6" y="667.0" width="16" height="16" fill="#f7941e"/>
<rect x="1781.0" y="654.0" width="16" height="16" fill="#f7941e"/>
<rect x="1797.4" y="659.4" width="16" height="16" fill="#f7941e"/>
<rect x="1813.8" y="652.0" width="16" height="16" fill="#f7941e"/>
<rect x="1830.2" y="657.0" width="16" height="16" fill="#f7941e"/>
<rect x="1846.6" y="652.0" width="16" height="16" fill="#f7941e"/>
<rect x="1863.0" y="643.3" width="16" height="16" fill="#f7941e"/>
<rect x="1879.4" y="652.0" width="16" height="16" fill="#f7941e"/>
<rect x="1895.8" y="667.8" width="16" height="16" fill="#f7941e"/>
<rect x="1912.2" y="657.0" width="16" height="16" fill="#f7941e"/>
<rect x="1928.6" y="683.0" width="16" height="16" fill="#f7941e"/>
<rect x="1945.0" y="660.0" width="16" height="16" fill="#f7941e"/>
<rect x="1961.4" y="647.0" width="16" height="16" fill="#f7941e"/>
<rect x="1977.8" y="667.0" width="16" height="16" fill="#f7941e"/>
<g fill="#e63329">
<circle cx="1318.6" cy="91.6" r="12.8"/>
<circle cx="1335.0" cy="105.0" r="12.8"/>
<circle cx="1351.4" cy="90.0" r="12.8"/>
<circle cx="1367.9" cy="88.3" r="12.8"/>
<circle cx="1384.3" cy="80.0" r="12.8"/>
<circle cx="1400.7" cy="90.8" r="12.8"/>
<circle cx="1417.1" cy="113.3" r="12.8"/>
<circle cx="1433.5" cy="117.4" r="12.8"/>
<circle cx="1450.0" cy="108.3" r="12.8"/>
<circle cx="1466.4" cy="139.0" r="12.8"/>
<circle cx="1482.8" cy="133.2" r="12.8"/>
<circle cx="1499.2" cy="138.2" r="12.8"/>
<circle cx="1515.6" cy="147.4" r="12.8"/>
<circle cx="1532.1" cy="143.2" r="12.8"/>
<circle cx="1548.5" cy="153.2" r="12.8"/>
<circle cx="1564.9" cy="232.6" r="12.8"/>
<circle cx="1581.3" cy="241.6" r="12.8"/>
<circle cx="1597.7" cy="276.5" r="12.8"/>
<circle cx="1614.2" cy="349.0" r="12.8"/>
<circle cx="1630.6" cy="411.4" r="12.8"/>
<circle cx="1647.0" cy="491.6" r="12.8"/>
<circle cx="1663.4" cy="545.0" r="12.8"/>
<circle cx="1679.8" cy="571.5" r="12.8"/>
<circle cx="1696.3" cy="591.5" r="12.8"/>
<circle cx="1712.7" cy="653.2" r="12.8"/>
<circle cx="1729.1" cy="627.7" r="12.8"/>
<circle cx="1745.5" cy="638.1" r="12.8"/>
<circle cx="1761.9" cy="656.0" r="12.8"/>
<circle cx="1778.4" cy="663.6" r="12.8"/>
<circle cx="1794.8" cy="655.0" r="12.8"/>
<circle cx="1811.2" cy="652.3" r="12.8"/>
<circle cx="1827.6" cy="642.8" r="12.8"/>
<circle cx="1844.0" cy="662.6" r="12.8"/>
<circle cx="1860.5" cy="651.3" r="12.8"/>
<circle cx="1876.9" cy="633.4" r="12.8"/>
<circle cx="1893.3" cy="647.5" r="12.8"/>
<circle cx="1909.7" cy="643.8" r="12.8"/>
<circle cx="1926.1" cy="656.0" r="12.8"/>
<circle cx="1942.6" cy="661.7" r="12.8"/>
<circle cx="1959.0" cy="672.0" r="12.8"/>
<circle cx="1975.4" cy="670.2" r="12.8"/>
<circle cx="1991.8" cy="659.8" r="12.8"/>
<circle cx="2008.2" cy="671.0" r="12.8"/>
</g>
<rect x="1348.9" y="86.2" width="6.4" height="6.4" fill="#f6a321"/>
<path d="M1318.0,105.1 L1322.3,105.1 L1326.7,105.1 L1331.0,105.1 L1335.4,105.1 L1339.7,105.1 L1344.0,105.2 L1348.4,105.2 L1352.7,105.2 L1357.1,105.2 L1361.4,105.3 L1365.7,105.3 L1370.1,105.4 L1374.4,105.4 L1378.8,105.5 L1383.1,105.5 L1387.4,105.6 L1391.8,105.7 L1396.1,105.8 L1400.5,105.9 L1404.8,106.0 L1409.1,106.1 L1413.5,106.3 L1417.8,106.5 L1422.2,106.7 L1426.5,106.9 L1430.8,107.1 L1435.2,107.4 L1439.5,107.7 L1443.8,108.1 L1448.2,108.5 L1452.5,109.0 L1456.9,109.6 L1461.2,110.2 L1465.5,110.9 L1469.9,111.7 L1474.2,112.6 L1478.6,113.6 L1482.9,114.7 L1487.2,116.0 L1491.6,117.5 L1495.9,119.1 L1500.3,121.0 L1504.6,123.1 L1508.9,125.4 L1513.3,128.1 L1517.6,131.1 L1522.0,134.4 L1526.3,138.1 L1530.6,142.3 L1535.0,147.0 L1539.3,152.2 L1543.7,158.0 L1548.0,164.4 L1552.3,171.4 L1556.7,179.2 L1561.0,187.7 L1565.4,197.0 L1569.7,207.1 L1574.0,218.1 L1578.4,229.8 L1582.7,242.4 L1587.1,255.8 L1591.4,270.0 L1595.7,284.9 L1600.1,300.4 L1604.4,316.5 L1608.8,333.1 L1613.1,350.0 L1617.4,367.1 L1621.8,384.3 L1626.1,401.4 L1630.5,418.4 L1634.8,435.1 L1639.1,451.3 L1643.5,467.1 L1647.8,482.2 L1652.2,496.7 L1656.5,510.5 L1660.8,523.5 L1665.2,535.7 L1669.5,547.1 L1673.8,557.7 L1678.2,567.6 L1682.5,576.7 L1686.9,585.0 L1691.2,592.7 L1695.5,599.7 L1699.9,606.1 L1704.2,611.9 L1708.6,617.2 L1712.9,621.9 L1717.2,626.2 L1721.6,630.1 L1725.9,633.6 L1730.3,636.8 L1734.6,639.7 L1738.9,642.2 L1743.3,644.5 L1747.6,646.6 L1752.0,648.4 L1756.3,650.1 L1760.6,651.6 L1765.0,652.9 L1769.3,654.1 L1773.7,655.1 L1778.0,656.1 L1782.3,656.9 L1786.7,657.7 L1791.0,658.4 L1795.4,659.0 L1799.7,659.5 L1804.0,660.0 L1808.4,660.4 L1812.7,660.8 L1817.1,661.1 L1821.4,661.5 L1825.7,661.7 L1830.1,662.0 L1834.4,662.2 L1838.8,662.4 L1843.1,662.6 L1847.4,662.7 L1851.8,662.9 L1856.1,663.0 L1860.5,663.1 L1864.8,663.2 L1869.1,663.3 L1873.5,663.4 L1877.8,663.4 L1882.2,663.5 L1886.5,663.5 L1890.8,663.6 L1895.2,663.6 L1899.5,663.7 L1903.8,663.7 L1908.2,663.7 L1912.5,663.8 L1916.9,663.8 L1921.2,663.8 L1925.5,663.8 L1929.9,663.9 L1934.2,663.9 L1938.6,663.9 L1942.9,663.9 L1947.2,663.9 L1951.6,663.9 L1955.9,663.9 L1960.3,663.9 L1964.6,663.9 L1968.9,663.9 L1973.3,664.0 L1977.6,664.0 L1982.0,664.0 L1986.3,664.0 L1990.6,664.0 L1995.0,664.0 L1999.3,664.0 L2003.7,664.0 L2008.0,664.0" fill="none" stroke="#e63329" stroke-width="5.2"/>
<path d="M1294.0,119.7 L1297.1,119.7 L1300.1,119.7 L1303.2,119.7 L1306.3,119.7 L1309.3,119.7 L1312.4,119.7 L1315.5,119.7 L1318.6,119.7 L1321.6,119.7 L1324.7,119.7 L1327.8,119.7 L1330.8,119.7 L1333.9,119.8 L1337.0,119.8 L1340.0,119.8 L1343.1,119.8 L1346.2,119.8 L1349.2,119.8 L1352.3,119.8 L1355.4,119.9 L1358.5,119.9 L1361.5,119.9 L1364.6,119.9 L1367.7,120.0 L1370.7,120.0 L1373.8,120.0 L1376.9,120.1 L1379.9,120.1 L1383.0,120.1 L1386.1,120.2 L1389.1,120.2 L1392.2,120.3 L1395.3,120.4 L1398.4,120.4 L1401.4,120.5 L1404.5,120.6 L1407.6,120.6 L1410.6,120.7 L1413.7,120.8 L1416.8,120.9 L1419.8,121.0 L1422.9,121.1 L1426.0,121.3 L1429.0,121.4 L1432.1,121.5 L1435.2,121.7 L1438.3,121.9 L1441.3,122.1 L1444.4,122.3 L1447.5,122.5 L1450.5,122.7 L1453.6,123.0 L1456.7,123.3 L1459.7,123.6 L1462.8,123.9 L1465.9,124.2 L1468.9,124.6 L1472.0,125.0 L1475.1,125.5 L1478.2,125.9 L1481.2,126.5 L1484.3,127.0 L1487.4,127.6 L1490.4,128.3 L1493.5,129.0 L1496.6,129.7 L1499.6,130.6 L1502.7,131.5 L1505.8,132.4 L1508.8,133.4 L1511.9,134.6 L1515.0,135.8 L1518.1,137.1 L1521.1,138.5 L1524.2,140.0 L1527.3,141.6 L1530.3,143.3 L1533.4,145.2 L1536.5,147.2 L1539.5,149.4 L1542.6,151.7 L1545.7,154.2 L1548.7,156.9 L1551.8,159.8 L1554.9,162.9 L1557.9,166.2 L1561.0,169.7 L1564.1,173.5 L1567.2,177.5 L1570.2,181.8 L1573.3,186.4 L1576.4,191.3 L1579.4,196.5 L1582.5,202.0 L1585.6,207.8 L1588.6,214.0 L1591.7,220.5 L1594.8,227.4 L1597.8,234.7 L1600.9,242.3 L1604.0,250.3 L1607.1,258.6 L1610.1,267.4 L1613.2,276.5 L1616.3,285.9 L1619.3,295.7 L1622.4,305.8 L1625.5,316.3 L1628.5,327.0 L1631.6,338.0 L1634.7,349.2 L1637.7,360.7 L1640.8,372.3 L1643.9,384.0 L1647.0,395.8 L1650.0,407.7 L1653.1,419.6 L1656.2,431.4 L1659.2,443.2 L1662.3,454.8 L1665.4,466.3 L1668.4,477.6 L1671.5,488.6 L1674.6,499.4 L1677.6,509.9 L1680.7,520.0 L1683.8,529.8 L1686.9,539.1 L1689.9,548.1 L1693.0,556.7 L1696.1,564.9 L1699.1,572.6 L1702.2,580.0 L1705.3,586.9 L1708.3,593.4 L1711.4,599.5 L1714.5,605.2 L1717.5,610.5 L1720.6,615.5 L1723.7,620.1 L1726.8,624.3 L1729.8,628.3 L1732.9,631.9 L1736.0,635.2 L1739.0,638.3 L1742.1,641.1 L1745.2,643.7 L1748.2,646.1 L1751.3,648.3 L1754.4,650.2 L1757.4,652.0 L1760.5,653.7 L1763.6,655.2 L1766.7,656.5 L1769.7,657.7 L1772.8,658.9 L1775.9,659.9 L1778.9,660.8 L1782.0,661.6" fill="none" stroke="#d76c1f" stroke-width="6"/>
<path d="M1780.0,661.1 L1781.3,661.4 L1782.6,661.8 L1783.9,662.1 L1785.3,662.4 L1786.6,662.7 L1787.9,663.0 L1789.2,663.3 L1790.5,663.5 L1791.8,663.8 L1793.1,664.0 L1794.5,664.2 L1795.8,664.5 L1797.1,664.7 L1798.4,664.9 L1799.7,665.1 L1801.0,665.2 L1802.3,665.4 L1803.7,665.6 L1805.0,665.7 L1806.3,665.9 L1807.6,666.0 L1808.9,666.2 L1810.2,666.3 L1811.5,666.5 L1812.9,666.6 L1814.2,666.7 L1815.5,666.8 L1816.8,666.9 L1818.1,667.0 L1819.4,667.1 L1820.7,667.2 L1822.1,667.3 L1823.4,667.4 L1824.7,667.5 L1826.0,667.5 L1827.3,667.6 L1828.6,667.7 L1829.9,667.8 L1831.3,667.8 L1832.6,667.9 L1833.9,667.9 L1835.2,668.0 L1836.5,668.0 L1837.8,668.1 L1839.2,668.2 L1840.5,668.2 L1841.8,668.2 L1843.1,668.3 L1844.4,668.3 L1845.7,668.4 L1847.0,668.4 L1848.4,668.4 L1849.7,668.5 L1851.0,668.5 L1852.3,668.5 L1853.6,668.6 L1854.9,668.6 L1856.2,668.6 L1857.6,668.7 L1858.9,668.7 L1860.2,668.7 L1861.5,668.7 L1862.8,668.7 L1864.1,668.8 L1865.4,668.8 L1866.8,668.8 L1868.1,668.8 L1869.4,668.8 L1870.7,668.9 L1872.0,668.9 L1873.3,668.9 L1874.6,668.9 L1876.0,668.9 L1877.3,668.9 L1878.6,668.9 L1879.9,669.0 L1881.2,669.0 L1882.5,669.0 L1883.8,669.0 L1885.2,669.0 L1886.5,669.0 L1887.8,669.0 L1889.1,669.0 L1890.4,669.0 L1891.7,669.0 L1893.0,669.0 L1894.4,669.1 L1895.7,669.1 L1897.0,669.1 L1898.3,669.1 L1899.6,669.1 L1900.9,669.1 L1902.2,669.1 L1903.6,669.1 L1904.9,669.1 L1906.2,669.1 L1907.5,669.1 L1908.8,669.1 L1910.1,669.1 L1911.4,669.1 L1912.8,669.1 L1914.1,669.1 L1915.4,669.1 L1916.7,669.1 L1918.0,669.1 L1919.3,669.1 L1920.6,669.1 L1922.0,669.1 L1923.3,669.1 L1924.6,669.1 L1925.9,669.2 L1927.2,669.2 L1928.5,669.2 L1929.8,669.2 L1931.2,669.2 L1932.5,669.2 L1933.8,669.2 L1935.1,669.2 L1936.4,669.2 L1937.7,669.2 L1939.1,669.2 L1940.4,669.2 L1941.7,669.2 L1943.0,669.2 L1944.3,669.2 L1945.6,669.2 L1946.9,669.2 L1948.3,669.2 L1949.6,669.2 L1950.9,669.2 L1952.2,669.2 L1953.5,669.2 L1954.8,669.2 L1956.1,669.2 L1957.5,669.2 L1958.8,669.2 L1960.1,669.2 L1961.4,669.2 L1962.7,669.2 L1964.0,669.2 L1965.3,669.2 L1966.7,669.2 L1968.0,669.2 L1969.3,669.2 L1970.6,669.2 L1971.9,669.2 L1973.2,669.2 L1974.5,669.2 L1975.9,669.2 L1977.2,669.2 L1978.5,669.2 L1979.8,669.2 L1981.1,669.2 L1982.4,669.2 L1983.7,669.2 L1985.1,669.2 L1986.4,669.2 L1987.7,669.2 L1989.0,669.2" fill="none" stroke="#f7941e" stroke-width="6.2"/>
<g stroke="#000" stroke-width="4.4" fill="none">
<path d="M1189.5,43.3 V788.2" stroke-width="4.4"/>
<path d="M1175.3,785.8 H2111.5" stroke-width="4.6"/>
<path d="M2112.2,29.3 V786" stroke-width="4.6"/>
<path d="M1182.5,739.8 H1190"/>
<path d="M1175.5,693.5 H1190"/>
<path d="M1182.5,647.2 H1190"/>
<path d="M1175.5,600.9 H1190"/>
<path d="M1182.5,554.6 H1190"/>
<path d="M1175.5,508.3 H1190"/>
<path d="M1182.5,462.0 H1190"/>
<path d="M1175.5,415.7 H1190"/>
<path d="M1182.5,369.4 H1190"/>
<path d="M1175.5,323.1 H1190"/>
<path d="M1182.5,276.8 H1190"/>
<path d="M1175.5,230.5 H1190"/>
<path d="M1182.5,184.2 H1190"/>
<path d="M1175.5,137.9 H1190"/>
<path d="M1182.5,91.6 H1190"/>
<path d="M1175.5,45.3 H1190"/>
<path d="M2097,727.5 H2112"/>
<path d="M2105,674.0 H2112"/>
<path d="M2097,620.6 H2112"/>
<path d="M2105,567.1 H2112"/>
<path d="M2097,513.7 H2112"/>
<path d="M2105,460.2 H2112"/>
<path d="M2097,406.8 H2112"/>
<path d="M2105,353.3 H2112"/>
<path d="M2097,299.9 H2112"/>
<path d="M2105,246.4 H2112"/>
<path d="M2097,193.0 H2112"/>
<path d="M2105,139.5 H2112"/>
<path d="M2097,86.1 H2112"/>
<path d="M2105,32.6 H2112"/>
<path d="M1189.5,786 V800"/>
<path d="M1243.5,786 V793.2"/>
<path d="M1297.6,786 V800"/>
<path d="M1351.7,786 V793.2"/>
<path d="M1405.7,786 V800"/>
<path d="M1459.8,786 V793.2"/>
<path d="M1513.8,786 V800"/>
<path d="M1567.8,786 V793.2"/>
<path d="M1621.9,786 V800"/>
<path d="M1676.0,786 V793.2"/>
<path d="M1730.0,786 V800"/>
<path d="M1784.1,786 V793.2"/>
<path d="M1838.1,786 V800"/>
<path d="M1892.2,786 V793.2"/>
<path d="M1946.2,786 V800"/>
<path d="M2000.2,786 V793.2"/>
<path d="M2054.3,786 V800"/>
<path d="M2108.3,786 V793.2"/>
</g>
<text class="b" fill="#3f4ea6" font-size="31.30" text-anchor="end" transform="translate(1164.60,795.80) scale(0.96,1)">-6</text>
<text class="b" fill="#3f4ea6" font-size="31.30" text-anchor="end" transform="translate(1164.60,703.20) scale(0.96,1)">-5</text>
<text class="b" fill="#3f4ea6" font-size="31.30" text-anchor="end" transform="translate(1164.60,610.60) scale(0.96,1)">-4</text>
<text class="b" fill="#3f4ea6" font-size="31.30" text-anchor="end" transform="translate(1164.60,518.00) scale(0.96,1)">-3</text>
<text class="b" fill="#3f4ea6" font-size="31.30" text-anchor="end" transform="translate(1164.60,425.40) scale(0.96,1)">-2</text>
<text class="b" fill="#3f4ea6" font-size="31.30" text-anchor="end" transform="translate(1164.60,332.80) scale(0.96,1)">-1</text>
<text class="b" fill="#3f4ea6" font-size="31.30" text-anchor="end" transform="translate(1164.60,240.20) scale(0.96,1)">0</text>
<text class="b" fill="#3f4ea6" font-size="31.30" text-anchor="end" transform="translate(1164.60,147.60) scale(0.96,1)">1</text>
<text class="b" fill="#3f4ea6" font-size="31.30" text-anchor="end" transform="translate(1164.60,55.00) scale(0.96,1)">2</text>
<text class="b" fill="#d93a2a" font-size="31.40" text-anchor="end" transform="translate(2087.20,737.50) scale(0.97,1)">1</text>
<text class="b" fill="#d93a2a" font-size="31.40" text-anchor="end" transform="translate(2087.20,630.60) scale(0.97,1)">2</text>
<text class="b" fill="#d93a2a" font-size="31.40" text-anchor="end" transform="translate(2087.20,523.70) scale(0.97,1)">3</text>
<text class="b" fill="#d93a2a" font-size="31.40" text-anchor="end" transform="translate(2087.20,416.80) scale(0.97,1)">4</text>
<text class="b" fill="#d93a2a" font-size="31.40" text-anchor="end" transform="translate(2087.20,309.90) scale(0.97,1)">5</text>
<text class="b" fill="#d93a2a" font-size="31.40" text-anchor="end" transform="translate(2087.20,203.00) scale(0.97,1)">6</text>
<text class="b" fill="#d93a2a" font-size="31.40" text-anchor="end" transform="translate(2087.20,96.10) scale(0.97,1)">7</text>
<text class="b" font-size="32.30" text-anchor="middle" transform="translate(1189.70,835.50) scale(0.97,1)">10</text>
<text class="b" font-size="32.30" text-anchor="middle" transform="translate(1297.80,835.50) scale(0.97,1)">20</text>
<text class="b" font-size="32.30" text-anchor="middle" transform="translate(1405.90,835.50) scale(0.97,1)">30</text>
<text class="b" font-size="32.30" text-anchor="middle" transform="translate(1514.00,835.50) scale(0.97,1)">40</text>
<text class="b" font-size="32.30" text-anchor="middle" transform="translate(1622.10,835.50) scale(0.97,1)">50</text>
<text class="b" font-size="32.30" text-anchor="middle" transform="translate(1730.20,835.50) scale(0.97,1)">60</text>
<text class="b" font-size="32.30" text-anchor="middle" transform="translate(1838.30,835.50) scale(0.97,1)">70</text>
<text class="b" font-size="32.30" text-anchor="middle" transform="translate(1946.40,835.50) scale(0.97,1)">80</text>
<text class="b" font-size="32.30" text-anchor="middle" transform="translate(2054.50,835.50) scale(0.97,1)">90</text>
<text class="b" font-size="35.98" transform="translate(1534.12,893.2) scale(0.936,1)"><tspan>Temperature </tspan><tspan x="230.7" dy="-4.8" font-size="24.1">˚</tspan><tspan x="240.3" dy="4.8">C</tspan></text>
<text font-size="43.2" transform="translate(1119.2,498.8) rotate(-90) scale(0.9695,1)">Δε(cm<tspan font-size="25.5" dy="-15">2</tspan><tspan dy="15">/mmol)</tspan></text>
<text font-size="81.12" transform="translate(1055.76,87.00) scale(1.0122,1)">B</text>
<text class="b" fill="#3f4ea6" font-size="41.91" transform="translate(1350.76,365.80) scale(0.9903,1)">244nm</text>
<rect x="1308.8" y="390.6" width="18.4" height="18.4" rx="1" fill="#58bee4" stroke="#45b8df" stroke-width="1.6"/>
<circle cx="1317" cy="442.8" r="13" fill="#3b3fa0"/>
<text font-size="42.12" transform="translate(1342.57,415.90) scale(0.9955,1)">low-high</text>
<text font-size="42.12" transform="translate(1342.57,457.60) scale(0.9679,1)">high-low</text>
<text class="b" fill="#e13527" font-size="41.91" transform="translate(1799.16,358.80) scale(0.9903,1)">264nm</text>
<rect x="1770" y="393" width="18.4" height="18.4" rx="1" fill="#ec7424" stroke="#f39a3a" stroke-width="1.6"/>
<circle cx="1779.7" cy="449.8" r="12.9" fill="#e63329"/>
<text font-size="42.12" transform="translate(1798.28,420.10) scale(0.9948,1)">low-high</text>
<text font-size="42.12" transform="translate(1798.27,461.00) scale(0.9679,1)">high-low</text>
</g>
</svg></body></html>
